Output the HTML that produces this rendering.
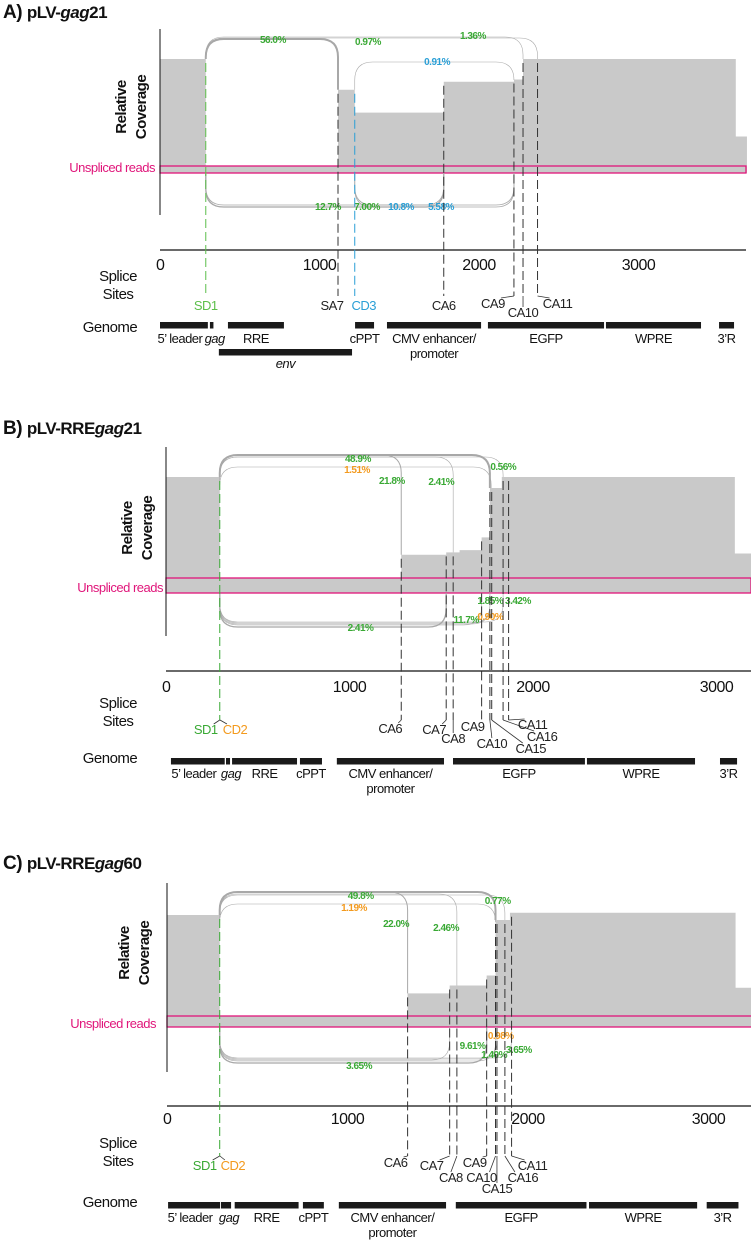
<!DOCTYPE html>
<html><head><meta charset="utf-8"><style>
html,body{margin:0;padding:0;background:#fff}
svg{display:block}
text{font-family:"Liberation Sans Narrow","Liberation Sans",sans-serif;letter-spacing:-0.5px}
</style></head><body>
<svg id="fig" width="751" height="1240" viewBox="0 0 751 1240"></svg>
<script>
const ticks=[0,1000,2000,3000];
const tickLabels=["0","1000","2000","3000"];
// Panel A data
const covA=[[0,287,1],[287,1116,0.06],[1116,1221,0.73],[1221,1779,0.53],[1779,2219,0.80],[2219,2276,0.82],[2276,3610,1.0],[3610,3680,0.32]];
const siteNamesA=["SD1","SA7","CD3","CA6","CA9","CA10","CA11"];
const siteBpA=[287,1116,1221,1779,2219,2276,2367];
const siteColA=["#5cbf4a","#222","#2a9fd6","#222","#222","#222","#222"];
const juncFromA=[287,287,287,1221,287,287,1221,1221];
const juncToA=[1116,2276,2367,2219,1779,2219,1779,2219];
const juncSideA=["top","top","top","top","bot","bot","bot","bot"];
const juncPctA=["56.0%","0.97%","1.36%","0.91%","12.7%","7.00%","10.8%","5.58%"];
const juncLblBpA=[708,1304,1962,1737,1053,1298,1511,1762];
const juncColA=["#3aa935","#3aa935","#3aa935","#2a9fd6","#3aa935","#3aa935","#2a9fd6","#2a9fd6"];
const juncWA=[2,0.6,0.6,0.6,1.3,0.8,0.8,0.8];
const geneNamesA=["5\u2019 leader","gag","RRE","env","cPPT","CMV enhancer/|promoter","EGFP","WPRE","3\u2019R"];
const geneStartA=[0,313,426,369,1223,1423,2056,2796,3505];
const geneEndA=[300,335,777,1204,1342,2013,2784,3392,3599];
// Panel B data
const covB=[[0,293,1],[293,1282,0.13],[1282,1527,0.33],[1527,1600,0.35],[1600,1720,0.37],[1720,1765,0.48],[1765,1830,0.905],[1830,3100,1.0],[3100,3190,0.34]];
const siteNamesB=["SD1","CD2","CA6","CA7","CA8","CA9","CA10","CA15","CA16","CA11"];
const siteBpB=[293,294,1282,1527,1565,1720,1765,1775,1837,1867];
const siteColB=["#3aa935","#f39a1e","#222","#222","#222","#222","#222","#222","#222","#222"];
const juncFromB=[293,293,293,293,293,293,293,293,293,294];
const juncToB=[1765,1282,1565,1837,1772,1527,1720,1837,1765,1765];
const juncSideB=["top","top","top","top","top","bot","bot","bot","bot","bot"];
const juncPctB=["48.9%","21.8%","2.41%","0.56%","1.51%","2.41%","11.7%","3.42%","1.85%","0.90%"];
const juncLblBpB=[1046,1231,1500,1838,1041,1060,1636,1918,1767,1767];
const juncColB=["#3aa935","#3aa935","#3aa935","#3aa935","#f39a1e","#3aa935","#3aa935","#3aa935","#3aa935","#f39a1e"];
const juncWB=[2,1,0.6,0.6,0.6,1.3,0.6,0.6,0.6,0.6];
const geneNamesB=["5\u2019 leader","gag","RRE","cPPT","CMV enhancer/|promoter","EGFP","WPRE","3\u2019R"];
const geneStartB=[27,327,360,730,931,1564,2294,3019];
const geneEndB=[320,349,714,850,1515,2283,2883,3112];
// Panel C data
const covC=[[0,292,1],[292,1333,0.10],[1333,1566,0.30],[1566,1771,0.37],[1771,1820,0.46],[1820,1900,0.955],[1900,3150,1.02],[3150,3240,0.35]];
const siteNamesC=["SD1","CD2","CA6","CA7","CA8","CA9","CA10","CA15","CA16","CA11"];
const siteBpC=[292,293,1333,1566,1606,1771,1820,1828,1872,1909];
const siteColC=["#3aa935","#f39a1e","#222","#222","#222","#222","#222","#222","#222","#222"];
const juncFromC=[292,292,292,292,292,292,292,292,292,293];
const juncToC=[1820,1333,1606,1872,1820,1771,1566,1909,1820,1828];
const juncSideC=["top","top","top","top","top","bot","bot","bot","bot","bot"];
const juncPctC=["49.8%","22.0%","2.46%","0.77%","1.19%","3.65%","9.61%","3.65%","1.40%","0.98%"];
const juncLblBpC=[1073,1269,1546,1832,1036,1064,1693,1949,1812,1849];
const juncColC=["#3aa935","#3aa935","#3aa935","#3aa935","#f39a1e","#3aa935","#3aa935","#3aa935","#3aa935","#f39a1e"];
const juncWC=[2,1,0.6,0.6,0.6,1.3,0.6,0.6,0.6,0.6];
const geneNamesC=["5\u2019 leader","gag","RRE","cPPT","CMV enhancer/|promoter","EGFP","WPRE","3\u2019R"];
const geneStartC=[6,299,375,753,952,1600,2338,2990];
const geneEndC=[294,355,729,869,1546,2324,2937,3166];

const NS="http://www.w3.org/2000/svg";
const svg=document.getElementById('fig');
function mk(tag,attrs,parent,txt){const e=document.createElementNS(NS,tag);for(const k in attrs)e.setAttribute(k,attrs[k]);if(txt!==undefined)e.textContent=txt;(parent||svg).appendChild(e);return e;}

const panels=[
 {id:"a",letter:"A)",title:["pLV-","gag","21"],titleY:18,x0:160,k:0.1595,xEnd:746,ax:[29,215],box:[166,173],covTop:59,axisY:250,tickY:270,siteY:310,ssY:[281,299],genY:322,genLblY:343,genWord:332,rcY:107,rcX:[124,141],uY:172,uX:155,
  cov:covA,sn:siteNamesA,sb:siteBpA,sc:siteColA,sdx:[0,-6,9,0,-21,0,20],sdy:[0,0,0,0,-2,7,-2],
  jf:juncFromA,jt:juncToA,js:juncSideA,jp:juncPctA,jl:juncLblBpA,jc:juncColA,jw:juncWA,jly:[40,42,36,62,207,207,207,207],jpk:[39,37,38,62,207,205,205,207],
  gn:geneNamesA,gs:geneStartA,ge:geneEndA},
 {id:"b",letter:"B)",title:["pLV-RRE","gag","21"],titleY:434,x0:166,k:0.1835,xEnd:751,ax:[447,636],box:[578,593],covTop:477,axisY:671,tickY:692,siteY:734,ssY:[708,726],genY:758,genLblY:778,genWord:763,rcY:528,rcX:[130,147],uY:592,uX:163,
  cov:covB,sn:siteNamesB,sb:siteBpB,sc:siteColB,sdx:[-14,15,-11,-12,0,-9,2,39,39,24],sdy:[0,0,-1,0,9,-3,14,19,7,-5],
  jf:juncFromB,jt:juncToB,js:juncSideB,jp:juncPctB,jl:juncLblBpB,jc:juncColB,jw:juncWB,jly:[459,481,482,467,470,628,620,601,601,617],jpk:[455,455,457,457,467,627,625,622,624,623],
  gn:geneNamesB,gs:geneStartB,ge:geneEndB},
 {id:"c",letter:"C)",title:["pLV-RRE","gag","60"],titleY:869,x0:167,k:0.1805,xEnd:752,ax:[883,1072],box:[1016,1027],covTop:915,axisY:1106,tickY:1124,siteY:1170,ssY:[1148,1166],genY:1202,genLblY:1222,genWord:1207,rcY:953,rcX:[127,144],uY:1028,uX:156,
  cov:covC,sn:siteNamesC,sb:siteBpC,sc:siteColC,sdx:[-15,13,-12,-18,-6,-12,-14,0,18,21],sdy:[0,0,-3,0,12,-3,12,23,12,0],
  jf:juncFromC,jt:juncToC,js:juncSideC,jp:juncPctC,jl:juncLblBpC,jc:juncColC,jw:juncWC,jly:[896,924,928,901,908,1066,1046,1050,1055,1036],jpk:[892,892,894,895,904,1063,1060,1058,1061,1059],
  gn:geneNamesC,gs:geneStartC,ge:geneEndC}
];

panels.forEach(p=>{
 const g=mk('g',{});
 
 
 const X=bp=>p.x0+bp*p.k;
 const base=p.box[1];
 const Y=v=>base-v*(base-p.covTop);
 const covAt=bp=>{for(const s of p.cov){if(bp>=s[0]&&bp<s[1])return Y(s[2]);}return base;};
 const t=mk('text',{x:3,y:p.titleY,'font-size':17,'font-weight':'bold',fill:'#111'},g);
 
 
 mk('tspan',{'font-size':19},t,p.letter+"  ");
 mk('tspan',{},t,p.title[0]);
 mk('tspan',{'font-style':'italic'},t,p.title[1]);
 mk('tspan',{},t,p.title[2]);
 let d="M"+X(p.cov[0][0])+","+base;
 p.cov.forEach(s=>{d+=" L"+X(s[0])+","+Y(s[2])+" L"+X(s[1])+","+Y(s[2]);});
 d+=" L"+X(p.cov[p.cov.length-1][1])+","+base+" Z";
 const cv=mk('path',{d:d,fill:'#c9c9c9'},g);
 
 
 const bx=mk('rect',{x:p.x0,y:p.box[0],width:p.xEnd-p.x0,height:p.box[1]-p.box[0],fill:'none',stroke:'#e0157a','stroke-width':1.3},g);
 
 
 const ul=mk('text',{x:p.uX,y:p.uY,'font-size':13,fill:'#e0157a','text-anchor':'end'},g,"Unspliced reads");
 
 
 const ya=mk('line',{x1:p.x0,y1:p.ax[0],x2:p.x0,y2:p.ax[1],stroke:'#111','stroke-width':1},g);
 
 
 const rc=mk('text',{transform:'translate('+(p.rcX[0]+2)+','+p.rcY+') rotate(-90)','font-size':15,'font-weight':'bold','text-anchor':'middle',fill:'#111'},g,"Relative");
 
 
 const rc2=mk('text',{transform:'translate('+(p.rcX[1]+5)+','+p.rcY+') rotate(-90)','font-size':15,'font-weight':'bold','text-anchor':'middle',fill:'#111'},g,"Coverage");
 
 
 const xa=mk('line',{x1:p.x0,y1:p.axisY,x2:p.xEnd,y2:p.axisY,stroke:'#111','stroke-width':1.3},g);
 
 
 ticks.forEach((tv,i)=>{
  const tl=mk('text',{x:X(tv),y:p.tickY,'font-size':16,'text-anchor':i==0?'start':'middle',fill:'#111'},g,tickLabels[i]);
  if(i==0)tl.setAttribute('x',X(tv)-4);
  
  
 });
 p.jf.forEach((f,i)=>{
  const x1=X(f),x2=X(p.jt[i]);
  const top=p.js[i]=="top";
  const yp=p.jpk[i];
  const y1=top?covAt(f-1):base, y2=top?covAt(p.jt[i]+1):base;
  const r=Math.min(18,(x2-x1)/2);
  const s=top?1:-1;
  const dd="M"+x1+","+y1+" L"+x1+","+(yp+s*r)+" Q"+x1+","+yp+" "+(x1+r)+","+yp+" L"+(x2-r)+","+yp+" Q"+x2+","+yp+" "+x2+","+(yp+s*r)+" L"+x2+","+y2;
  const a=mk('path',{d:dd,fill:'none',stroke:'#a8a8a8','stroke-width':p.jw[i]},g);
  
  
 });
 p.jp.forEach((lab,i)=>{
  const lt=mk('text',{x:X(p.jl[i]),y:p.jly[i]+3,'font-size':10,'font-weight':'bold','text-anchor':'middle',fill:p.jc[i]},g,lab);
  
  
 });
 const ss=mk('text',{x:118,y:p.ssY[0],'font-size':15,'text-anchor':'middle',fill:'#111'},g,"Splice");
 
 
 const ss2=mk('text',{x:118,y:p.ssY[1],'font-size':15,'text-anchor':'middle',fill:'#111'},g,"Sites");
 
 
 p.sb.forEach((b,i)=>{
  const sx=X(b);
  if(p.sn[i]!="CD2"){
   const ln=mk('line',{x1:sx,y1:Math.min(covAt(b+1),covAt(b-1))+4,x2:sx,y2:p.siteY-14,stroke:p.sc[i]=="#222"?"#333":p.sc[i],'stroke-width':1,'stroke-dasharray':'9,4'},g);
   
   
  }
  const lx=sx+p.sdx[i], ly=p.siteY+p.sdy[i];
  if(Math.abs(p.sdx[i])>10||p.sdy[i]>5){
   const ld=mk('line',{x1:sx,y1:p.siteY-14,x2:lx-(p.sdx[i]>0?8:-8)*(Math.abs(p.sdx[i])>10?1:0),y2:ly-10,stroke:'#333','stroke-width':0.8},g);
   
   
  }
  const sl=mk('text',{x:lx,y:ly,'font-size':13,'text-anchor':'middle',fill:p.sc[i]},g,p.sn[i]);
  
  
 });
 const gw=mk('text',{x:110,y:p.genWord,'font-size':15,'text-anchor':'middle',fill:'#111'},g,"Genome");
 
 
 p.gn.forEach((n,i)=>{
  const env=n=="env";
  const gy=env?p.genY+27:p.genY;
  const gr=mk('rect',{x:X(p.gs[i]),y:gy,width:X(p.ge[i])-X(p.gs[i]),height:6.5,fill:'#1a1a1a'},g);
  
  
  let cx=(X(p.gs[i])+X(p.ge[i]))/2;
  if(n=="5\u2019 leader")cx-=4;
  if(n=="gag")cx+=3;
  const parts=n.split("|");
  const italic=(n=="gag"||n=="env");
  parts.forEach((pt,j)=>{
   const gl=mk('text',{x:cx,y:(env?p.genLblY+25:p.genLblY)+j*15,'font-size':13,'text-anchor':'middle',fill:'#111','font-style':italic?'italic':'normal'},g,pt);
   
   
  });
 });
});
</script>
</body></html>
